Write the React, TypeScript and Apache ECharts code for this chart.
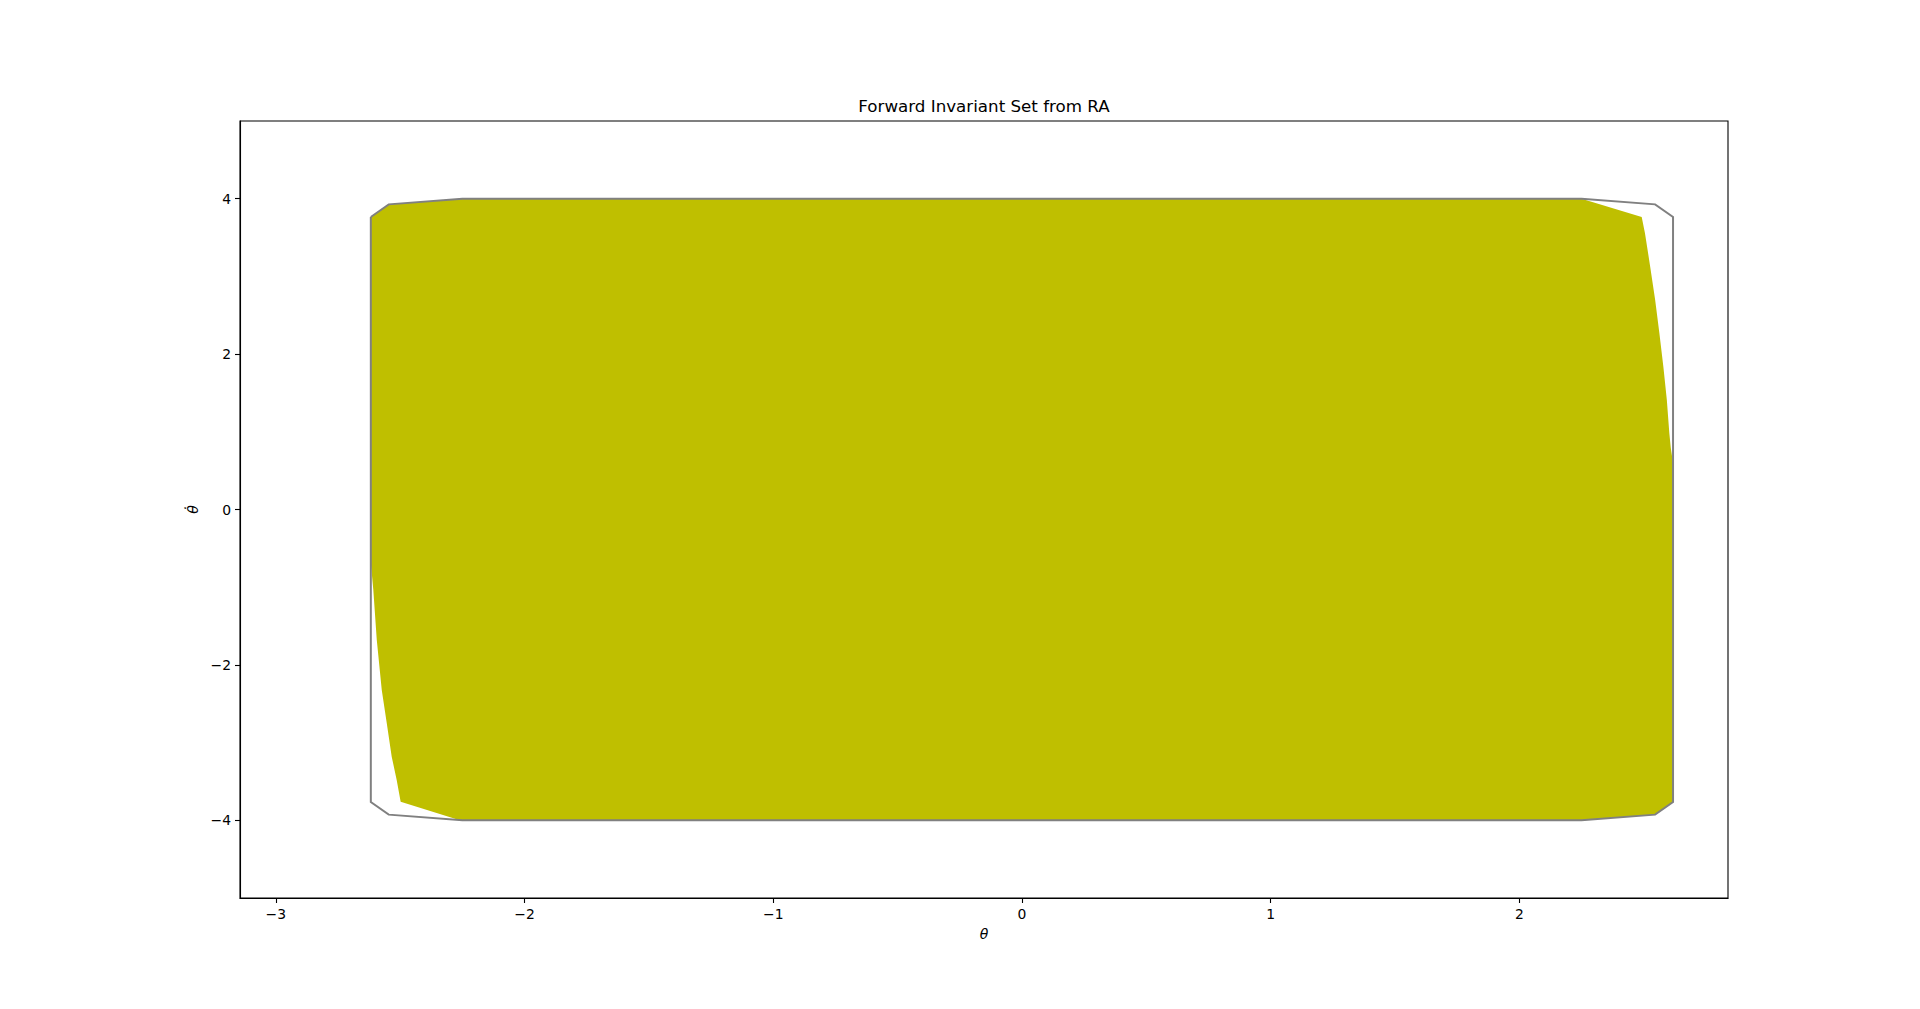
import React, { useEffect, useRef } from "react";
import * as echarts from "echarts";

const chartTitle = "Forward Invariant Set from RA";
const xName = "θ";
const yName = "θ̇";

const xTicks = [-3, -2, -1, 0, 1, 2];
const yTicks = [-4, -2, 0, 2, 4];
const xMin = -3.144;
const xMax = 2.839;
const yMin = -5;
const yMax = 5;

// Outline of the safe set (gray polygon)
const outlineTheta = [-2.618, -2.546, -2.25, 2.25, 2.546, 2.618, 2.618, 2.546, 2.25, -2.25, -2.546, -2.618, -2.618];
const outlineThetaDot = [3.765, 3.927, 4.0, 4.0, 3.927, 3.765, -3.765, -3.927, -4.0, -4.0, -3.927, -3.765, 3.765];

// Forward invariant set (filled region)
const fillTheta = [
  -2.618, -2.546, -2.25, 2.25, 2.492,
  2.505, 2.526, 2.546, 2.563, 2.579, 2.593, 2.603, 2.609, 2.618,
  2.618, 2.546, 2.25, -2.25, -2.273, -2.498,
  -2.514, -2.534, -2.554, -2.574, -2.594, -2.608, -2.618,
];
const fillThetaDot = [
  3.765, 3.927, 4.0, 4.0, 3.765,
  3.559, 3.129, 2.7, 2.271, 1.841, 1.413, 0.984, 0.791, 0.6,
  -3.765, -3.927, -4.0, -4.0, -3.987, -3.76,
  -3.481, -3.181, -2.747, -2.322, -1.678, -1.034, -0.69,
];

const fmt = (v: number) => (v < 0 ? "\u2212" + Math.abs(v) : String(v));

export default function App() {
  const ref = useRef<HTMLDivElement>(null);
  useEffect(() => {
    if (!ref.current) return;
    const chart = echarts.init(ref.current, null, { renderer: "svg" });
    const font = "DejaVu Sans";
    chart.setOption({
      animation: false,
      backgroundColor: "#ffffff",
      title: {
        text: chartTitle,
        left: 979,
        textAlign: "center",
        top: 92,
        textStyle: { fontFamily: font, fontSize: 16.7, fontWeight: "normal", color: "#000" },
      },
      grid: {
        left: 240,
        right: 192,
        top: 121,
        bottom: 111,
        show: true,
        borderColor: "#000",
        borderWidth: 1.1,
        backgroundColor: "transparent",
      },
      xAxis: {
        type: "value",
        min: xMin,
        max: xMax,
        name: xName,
        nameLocation: "middle",
        nameGap: 29,
        nameTextStyle: { fontFamily: font, fontSize: 14, fontStyle: "italic", color: "#000" },
        axisLine: { show: true, onZero: false, lineStyle: { color: "#000", width: 1.1 } },
        axisTick: { show: true, inside: false, length: 5, customValues: xTicks, lineStyle: { color: "#000", width: 1.1 } },
        axisLabel: { customValues: xTicks, formatter: fmt, margin: 9, fontFamily: font, fontSize: 13.9, color: "#000" },
        splitLine: { show: false },
      },
      yAxis: {
        type: "value",
        min: yMin,
        max: yMax,
        name: yName,
        nameLocation: "middle",
        nameGap: 40,
        nameRotate: 90,
        nameTextStyle: { fontFamily: font, fontSize: 14, fontStyle: "italic", color: "#000" },
        axisLine: { show: true, onZero: false, lineStyle: { color: "#000", width: 1.1 } },
        axisTick: { show: true, inside: false, length: 5, customValues: yTicks, lineStyle: { color: "#000", width: 1.1 } },
        axisLabel: { customValues: yTicks, formatter: fmt, margin: 9, fontFamily: font, fontSize: 13.9, color: "#000" },
        splitLine: { show: false },
      },
      series: [
        {
          type: "custom",
          coordinateSystem: "cartesian2d",
          data: [[0, 0]],
          renderItem: (_params: any, api: any) => {
            const pts = fillTheta.map((x, i) => api.coord([x, fillThetaDot[i]]));
            return { type: "polygon", shape: { points: pts }, style: { fill: "#bfbf00", stroke: "none" } };
          },
          z: 2,
        },
        {
          type: "custom",
          coordinateSystem: "cartesian2d",
          data: [[0, 0]],
          renderItem: (_params: any, api: any) => {
            const pts = outlineTheta.map((x, i) => api.coord([x, outlineThetaDot[i]]));
            return {
              type: "polyline",
              shape: { points: pts },
              style: { fill: "none", stroke: "#808080", lineWidth: 2 },
            };
          },
          z: 3,
        },
      ],
    });
    return () => chart.dispose();
  }, []);
  return (
    <div
      ref={ref}
      style={{ position: "fixed", left: 0, top: 0, width: 1920, height: 1009, background: "#fff" }}
    />
  );
}
